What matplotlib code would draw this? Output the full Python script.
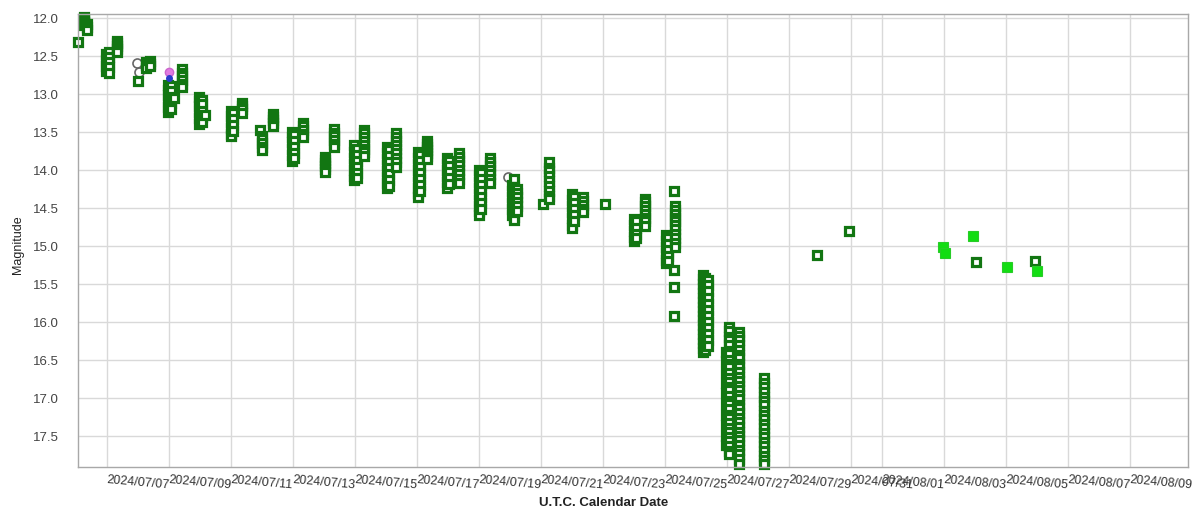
import numpy as np
import matplotlib
matplotlib.use("Agg")
import matplotlib.pyplot as plt
import matplotlib.dates as mdates
from datetime import datetime

plt.rcParams['font.family'] = ['Liberation Sans', 'DejaVu Sans']

# Times are days since 2024-07-01 00:00 UTC
EPOCH = datetime(2024, 7, 1)

# V-band observations: one column of magnitudes per time stamp
v_times = [
    5.06, 5.27, 5.36, 5.98, 6.05, 6.33, 6.99, 7.27, 7.38,
    7.98, 8.05, 8.17, 8.43, 8.98, 9.05, 9.15, 10.0, 10.06, 10.35,
    10.94, 11.00, 11.35, 11.97, 12.04, 12.33, 13.03, 13.32,
    13.97, 14.05, 14.30, 15.02, 15.09, 15.33, 16.02, 16.09, 16.33, 16.97, 17.04, 17.36,
    18.01, 18.08, 18.35, 19.06, 19.14, 19.22, 20.05, 20.25, 21.0, 21.07, 21.35, 22.06,
    23.0, 23.06, 23.35, 24.03, 24.09, 24.33, 24.30,
    25.22, 25.28, 25.40, 25.98, 26.06, 26.38, 27.20,
    28.90, 29.94, 34.03, 35.94,
]
v_mags = [
    [12.32],
    [11.99, 12.01, 12.03, 12.05, 12.07, 12.09],
    [12.08, 12.12, 12.16],
    [12.47, 12.55, 12.63, 12.70],
    [12.45, 12.51, 12.58, 12.65, 12.72],
    [12.30, 12.33, 12.37, 12.41, 12.45],
    [12.83],
    [12.58, 12.62, 12.66],
    [12.57, 12.61, 12.64],
    [12.88, 12.95, 13.02, 13.10, 13.17, 13.24],
    [12.90, 12.96, 13.04, 13.12, 13.20],
    [13.05],
    [12.67, 12.72, 12.77, 12.82, 12.87, 12.91],
    [13.04, 13.10, 13.16, 13.24, 13.32, 13.40],
    [13.08, 13.14, 13.22, 13.30, 13.37],
    [13.28],
    [13.22, 13.29, 13.37, 13.45, 13.53, 13.56],
    [13.25, 13.33, 13.41, 13.49],
    [13.12, 13.16, 13.20, 13.25],
    [13.47],
    [13.55, 13.60, 13.65, 13.70, 13.74],
    [13.26, 13.30, 13.34, 13.38, 13.42],
    [13.50, 13.57, 13.64, 13.72, 13.80, 13.88],
    [13.54, 13.62, 13.70, 13.78, 13.85],
    [13.38, 13.43, 13.48, 13.53, 13.57],
    [13.83, 13.87, 13.91, 13.95, 13.99, 14.03],
    [13.46, 13.51, 13.56, 13.61, 13.66, 13.70],
    [13.68, 13.76, 13.84, 13.92, 14.00, 14.08, 14.14],
    [13.72, 13.80, 13.88, 13.96, 14.04, 14.11],
    [13.47, 13.52, 13.57, 13.62, 13.67, 13.72, 13.77, 13.82],
    [13.70, 13.78, 13.86, 13.94, 14.02, 14.10, 14.18, 14.24],
    [13.74, 13.82, 13.90, 13.98, 14.06, 14.14, 14.21],
    [13.52, 13.57, 13.62, 13.67, 13.72, 13.78, 13.84, 13.90, 13.96],
    [13.76, 13.84, 13.92, 14.00, 14.08, 14.16, 14.24, 14.30, 14.36],
    [13.80, 13.88, 13.96, 14.04, 14.12, 14.20, 14.28],
    [13.62, 13.66, 13.70, 13.74, 13.78, 13.82, 13.86],
    [13.85, 13.92, 14.00, 14.08, 14.16, 14.24],
    [13.88, 13.95, 14.03, 14.11, 14.19],
    [13.78, 13.83, 13.88, 13.94, 14.00, 14.06, 14.12, 14.17],
    [14.00, 14.08, 14.16, 14.24, 14.32, 14.40, 14.48, 14.54, 14.59],
    [14.04, 14.12, 14.20, 14.28, 14.36, 14.44, 14.52],
    [13.85, 13.90, 13.95, 14.00, 14.06, 14.12, 14.17],
    [14.20, 14.28, 14.36, 14.44, 14.52, 14.60],
    [14.12, 14.22, 14.32, 14.42, 14.52, 14.62, 14.66],
    [14.25, 14.30, 14.36, 14.42, 14.48, 14.54],
    [14.45],
    [13.90, 13.97, 14.02, 14.08, 14.15, 14.21, 14.28, 14.34, 14.39],
    [14.32, 14.40, 14.48, 14.56, 14.64, 14.72, 14.77],
    [14.36, 14.44, 14.52, 14.60, 14.68],
    [14.36, 14.41, 14.46, 14.51, 14.56],
    [14.45],
    [14.65, 14.72, 14.80, 14.88, 14.94],
    [14.68, 14.76, 14.84, 14.90],
    [14.38, 14.43, 14.48, 14.53, 14.58, 14.63, 14.68, 14.74],
    [14.86, 14.94, 15.02, 15.10, 15.18, 15.23],
    [14.90, 14.98, 15.06, 15.14, 15.20],
    [14.48, 14.53, 14.58, 14.63, 14.68, 14.73, 14.78, 14.84, 14.90, 14.96, 15.02],
    [14.28, 15.32, 15.54, 15.92],
    [15.38, 15.44, 15.50, 15.56, 15.62, 15.68, 15.74, 15.80, 15.86, 15.92,
     15.98, 16.04, 16.10, 16.16, 16.22, 16.28, 16.34, 16.40],
    [15.42, 15.50, 15.58, 15.66, 15.74, 15.82, 15.90, 15.98, 16.06, 16.14,
     16.22, 16.30, 16.37],
    [15.45, 15.52, 15.60, 15.68, 15.76, 15.84, 15.92, 16.00, 16.08, 16.16,
     16.24, 16.32],
    [16.40, 16.52, 16.66, 16.80, 16.94, 17.08, 17.22, 17.36, 17.50, 17.62],
    [16.07, 16.12, 16.20, 16.24, 16.31, 16.38, 16.42, 16.50, 16.56, 16.60,
     16.67, 16.74, 16.79, 16.86, 16.90, 16.97, 17.04, 17.08, 17.15, 17.22,
     17.27, 17.33, 17.40, 17.45, 17.52, 17.57, 17.63, 17.70, 17.74],
    [16.13, 16.19, 16.24, 16.30, 16.37, 16.43, 16.48, 16.55, 16.60, 16.66,
     16.73, 16.78, 16.84, 16.90, 16.96, 17.02, 17.09, 17.14, 17.20, 17.27,
     17.32, 17.38, 17.45, 17.50, 17.56, 17.62, 17.68, 17.74, 17.80, 17.87],
    [16.74, 16.80, 16.86, 16.92, 16.99, 17.04, 17.10, 17.17, 17.22, 17.28,
     17.35, 17.40, 17.46, 17.52, 17.58, 17.64, 17.70, 17.76, 17.82, 17.87],
    [15.12],
    [14.80],
    [15.21],
    [15.20],
]

# Clear-filter (CV) observations
cv_times = [32.97, 33.03, 33.94, 35.03, 36.00]
cv_mags = [15.01, 15.09, 14.87, 15.28, 15.33]

# Visual estimates
vis_times = [6.97, 7.03, 18.95]
vis_mags = [12.59, 12.71, 14.10]

# Single R and B points
r_time, r_mag = 8.00, 12.71
b_time, b_mag = 8.00, 12.79

tick_labels = [
    '2024/07/07', '2024/07/09', '2024/07/11', '2024/07/13', '2024/07/15',
    '2024/07/17', '2024/07/19', '2024/07/21', '2024/07/23', '2024/07/25',
    '2024/07/27', '2024/07/29', '2024/07/31', '2024/08/01', '2024/08/03',
    '2024/08/05', '2024/08/07', '2024/08/09',
]
mag_ticks = [12.0, 12.5, 13.0, 13.5, 14.0, 14.5, 15.0, 15.5, 16.0, 16.5, 17.0, 17.5]

x0 = mdates.date2num(EPOCH)

fig = plt.figure(figsize=(11.92, 5.10), dpi=100)
W, H = 1192, 510
ax = fig.add_axes([78 / W, 1 - 468 / H, (1188 - 78) / W, (468 - 15) / H])

tick_pos = [mdates.date2num(datetime.strptime(s, '%Y/%m/%d')) for s in tick_labels]
ax.set_xticks(tick_pos)
ax.set_yticks(mag_ticks)
ax.grid(True, color='#d9d9d9', lw=1.0)
ax.set_axisbelow(True)

ax.plot([x0 + t for t in vis_times], vis_mags, ls='none', marker='o', ms=6.5,
        mfc='none', mec='#666666', mew=1.2, clip_on=False)

for t, mags in zip(v_times, v_mags):
    ax.plot([x0 + t] * len(mags), mags, ls='none', marker='s', ms=5.4,
            mfc='white', mec='#127612', mew=2.3, clip_on=False)

ax.plot([x0 + r_time], [r_mag], ls='none', marker='o', ms=6,
        mfc='#e07be0', mec='#cc66cc', clip_on=False)
ax.plot([x0 + b_time], [b_mag], ls='none', marker='o', ms=4,
        mfc='#2a3acc', mec='#2a3acc', clip_on=False)

ax.plot([x0 + t for t in cv_times], cv_mags, ls='none', marker='s', ms=7.4,
        mfc='#12dd12', mec='#28cc28', mew=0.8, clip_on=False)

ax.set_xlim(x0 + 5.065, x0 + 40.87)
ax.set_ylim(17.91, 11.95)

ax.set_xticklabels(tick_labels, rotation=-5, ha='left', va='top',
                   rotation_mode='anchor', fontsize=9, color='#333333')
ax.set_yticklabels([f'{m:.1f}' for m in mag_ticks], fontsize=9.5, color='#444444')
ax.tick_params(axis='x', length=0, pad=4)
ax.tick_params(axis='y', length=0, pad=14)

for s in ax.spines.values():
    s.set_color('#a8a8a8')
    s.set_linewidth(1.0)

fig.text(18 / W, 1 - 245 / H, 'Magnitude', rotation=90, ha='center', va='center',
         fontsize=9, color='#222222')
fig.text(604 / W, 1 - 503 / H, 'U.T.C. Calendar Date', ha='center', va='center',
         fontsize=9.5, fontweight='bold', color='#222222')

fig.savefig('out.png', dpi=100)
